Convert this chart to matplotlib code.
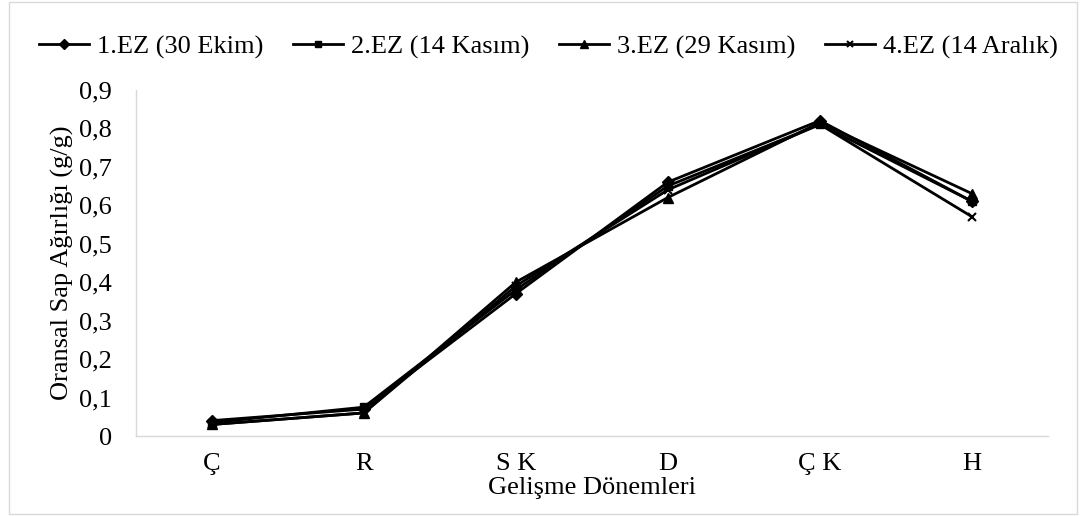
import numpy as np
import matplotlib
matplotlib.use('Agg')
import matplotlib.pyplot as plt
import matplotlib.ticker as mticker
from matplotlib.patches import Rectangle

plt.rcParams['font.family'] = ['Liberation Serif', 'DejaVu Serif']

categories = ['Ç', 'R', 'S K', 'D', 'Ç K', 'H']
series_names = ['1.EZ (30 Ekim)', '2.EZ (14 Kasım)', '3.EZ (29 Kasım)', '4.EZ (14 Aralık)']
ez1 = [0.040, 0.070, 0.370, 0.660, 0.820, 0.610]
ez2 = [0.035, 0.075, 0.380, 0.650, 0.810, 0.610]
ez3 = [0.030, 0.060, 0.400, 0.620, 0.815, 0.630]
ez4 = [0.030, 0.060, 0.390, 0.640, 0.810, 0.570]
yticks = [0, 0.1, 0.2, 0.3, 0.4, 0.5, 0.6, 0.7, 0.8, 0.9]

fig = plt.figure(figsize=[10.86, 5.16], dpi=100)
ax = fig.add_axes([0.125, 0.155, 0.840, 0.671])

# chart border
fig.patches.append(Rectangle((0.008, 0.004), 0.984, 0.992, transform=fig.transFigure,
                             fill=False, edgecolor='#d9d9d9', linewidth=1.0))

x = np.arange(len(categories))
markers = ['D', 's', '^', 'x']
sizes = [6, 6, 7, 6]
lines = []
for vals, mk, ms in zip([ez1, ez2, ez3, ez4], markers, sizes):
    ln, = ax.plot(x, vals, color='black', linewidth=2.0, marker=mk, markersize=ms,
                  markeredgewidth=1.5 if mk == 'x' else 1.0)
    lines.append(ln)

ax.set_xlim(-0.5, len(categories) - 0.5)
ax.set_ylim(0, 0.9)
ax.set_xticks(x)
ax.set_xticklabels(categories)
ax.set_yticks(yticks)
ax.yaxis.set_major_formatter(mticker.FuncFormatter(
    lambda v, p: '0' if v == 0 else ('%.1f' % v).replace('.', ',')))

for s in ['top', 'right']:
    ax.spines[s].set_visible(False)
for s in ['bottom', 'left']:
    ax.spines[s].set_color('#d9d9d9')
    ax.spines[s].set_linewidth(1.0)
ax.tick_params(axis='both', length=0, labelsize=19)
ax.tick_params(axis='x', pad=12)
ax.tick_params(axis='y', pad=17)

ax.set_xlabel('Gelişme Dönemleri', fontsize=19, labelpad=2)
ax.set_ylabel('Oransal Sap Ağırlığı (g/g)', fontsize=19, labelpad=4)

fig.legend(lines, series_names, loc='center', bbox_to_anchor=[0.505, 0.909], ncol=4,
           frameon=False, fontsize=19, handlelength=1.9, handletextpad=0.3,
           columnspacing=1.13, markerscale=0.8)

fig.savefig('out.png', dpi=100)
